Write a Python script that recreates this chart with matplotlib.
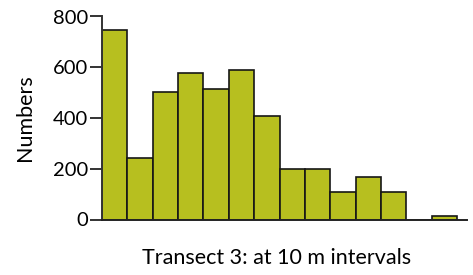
import matplotlib
matplotlib.use("Agg")
import matplotlib.pyplot as plt

plt.rcParams['font.family'] = ['Lato', 'DejaVu Sans']

positions = list(range(14))
values = [745, 242, 504, 579, 513, 590, 409, 199, 199, 107, 167, 107, 0, 15]
yticks = [0, 200, 400, 600, 800]
ylabel = "Numbers"
xlabel = "Transect 3: at 10 m intervals"

fig = plt.figure(figsize=(4.73, 2.75), dpi=100)
ax = fig.add_axes([102/473, 1-219.5/275, (467-102)/473, 203/275])
ax.bar(positions, values, width=1.0, align='edge', color='#b7bf1f',
       edgecolor='#161616', linewidth=1.2)
ax.set_xlim(0, 14.39)
ax.set_ylim(0, 800)
ax.set_yticks(yticks)
ax.set_xticks([])
for s in ['top', 'right']:
    ax.spines[s].set_visible(False)
ax.spines['left'].set_color('#333333')
ax.spines['left'].set_linewidth(1.4)
ax.spines['bottom'].set_color('#222222')
ax.spines['bottom'].set_linewidth(1.4)
ax.tick_params(axis='y', length=8.5, width=1.4, color='#333333', pad=1.5,
               labelsize=14.5)
fig.text(25/473, 1-118/275, ylabel, ha='center', va='center', rotation=90,
         fontsize=15.5)
fig.text(277/473, 1-258/275, xlabel, ha='center', va='center', fontsize=15.5)
fig.savefig("out.png", dpi=100)
